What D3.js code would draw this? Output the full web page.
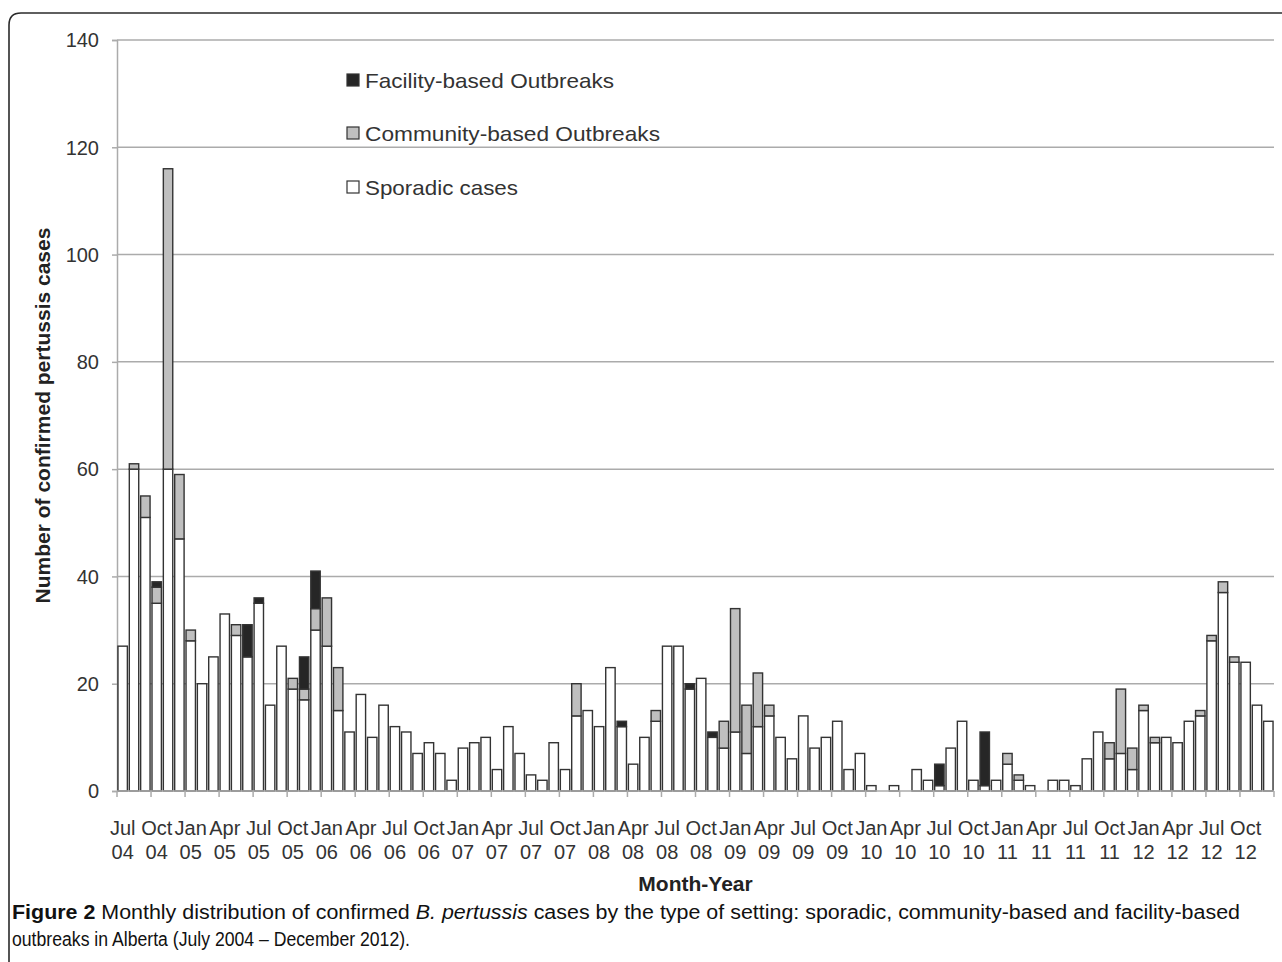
<!DOCTYPE html>
<html>
<head>
<meta charset="utf-8">
<script src="https://cdn.jsdelivr.net/npm/d3@7"></script>
<style>
  html, body { margin: 0; padding: 0; background: #fff; }
  svg { display: block; }
</style>
</head>
<body>
<svg id="chart" width="1282" height="962"></svg>
<script>
// ---- Data ----
const months = [
  "Jul 04","Aug 04","Sep 04","Oct 04","Nov 04","Dec 04",
  "Jan 05","Feb 05","Mar 05","Apr 05","May 05","Jun 05","Jul 05","Aug 05","Sep 05","Oct 05","Nov 05","Dec 05",
  "Jan 06","Feb 06","Mar 06","Apr 06","May 06","Jun 06","Jul 06","Aug 06","Sep 06","Oct 06","Nov 06","Dec 06",
  "Jan 07","Feb 07","Mar 07","Apr 07","May 07","Jun 07","Jul 07","Aug 07","Sep 07","Oct 07","Nov 07","Dec 07",
  "Jan 08","Feb 08","Mar 08","Apr 08","May 08","Jun 08","Jul 08","Aug 08","Sep 08","Oct 08","Nov 08","Dec 08",
  "Jan 09","Feb 09","Mar 09","Apr 09","May 09","Jun 09","Jul 09","Aug 09","Sep 09","Oct 09","Nov 09","Dec 09",
  "Jan 10","Feb 10","Mar 10","Apr 10","May 10","Jun 10","Jul 10","Aug 10","Sep 10","Oct 10","Nov 10","Dec 10",
  "Jan 11","Feb 11","Mar 11","Apr 11","May 11","Jun 11","Jul 11","Aug 11","Sep 11","Oct 11","Nov 11","Dec 11",
  "Jan 12","Feb 12","Mar 12","Apr 12","May 12","Jun 12","Jul 12","Aug 12","Sep 12","Oct 12","Nov 12","Dec 12"
];

const sporadic = [
  27,60,51,35,60,47,
  28,20,25,33,29,25,35,16,27,19,17,30,
  27,15,11,18,10,16,12,11,7,9,7,2,
  8,9,10,4,12,7,3,2,9,4,14,15,
  12,23,12,5,10,13,27,27,19,21,10,8,
  11,7,12,14,10,6,14,8,10,13,4,7,
  1,0,1,0,4,2,1,8,13,2,1,2,
  5,2,1,0,2,2,1,6,11,6,7,4,
  15,9,10,9,13,14,28,37,24,24,16,13
];
const community = [
  0,1,4,3,56,12,
  2,0,0,0,2,0,0,0,0,2,2,4,
  9,8,0,0,0,0,0,0,0,0,0,0,
  0,0,0,0,0,0,0,0,0,0,6,0,
  0,0,0,0,0,2,0,0,0,0,0,5,
  23,9,10,2,0,0,0,0,0,0,0,0,
  0,0,0,0,0,0,0,0,0,0,0,0,
  2,1,0,0,0,0,0,0,0,3,12,4,
  1,1,0,0,0,1,1,2,1,0,0,0
];
const facility = [
  0,0,0,1,0,0,
  0,0,0,0,0,6,1,0,0,0,6,7,
  0,0,0,0,0,0,0,0,0,0,0,0,
  0,0,0,0,0,0,0,0,0,0,0,0,
  0,0,1,0,0,0,0,0,1,0,1,0,
  0,0,0,0,0,0,0,0,0,0,0,0,
  0,0,0,0,0,0,4,0,0,0,10,0,
  0,0,0,0,0,0,0,0,0,0,0,0,
  0,0,0,0,0,0,0,0,0,0,0,0
];

const seriesNames = ["Sporadic cases", "Community-based Outbreaks", "Facility-based Outbreaks"];
const seriesKeys = ["sporadic", "community", "facility"];
const seriesColors = ["#ffffff", "#bfbfbf", "#262626"];
const legendOrder = ["facility", "community", "sporadic"];

const tickLabels = ["Jul 04","Oct 04","Jan 05","Apr 05","Jul 05","Oct 05","Jan 06","Apr 06","Jul 06","Oct 06",
  "Jan 07","Apr 07","Jul 07","Oct 07","Jan 08","Apr 08","Jul 08","Oct 08","Jan 09","Apr 09","Jul 09","Oct 09",
  "Jan 10","Apr 10","Jul 10","Oct 10","Jan 11","Apr 11","Jul 11","Oct 11","Jan 12","Apr 12","Jul 12","Oct 12"];
const yTicks = [0,20,40,60,80,100,120,140];

const yTitle = "Number of confirmed pertussis cases";
const xTitle = "Month-Year";

// ---- Layout ----
const svg = d3.select("#chart");
const plot = { left: 117, right: 1274, top: 40, bottom: 791 };
const FONT = "'Liberation Sans', Arial, Helvetica, sans-serif";

// outer frame with rounded top-left corner
const fr = 12, fx = 9, fy = 13;
svg.append("path")
  .attr("d", `M${fx},962 L${fx},${fy+fr} Q${fx},${fy} ${fx+fr},${fy} L1282,${fy}`)
  .attr("fill", "none").attr("stroke", "#2b2b2b").attr("stroke-width", 1.6);

const table = months.map((m, i) => ({ month: m, sporadic: sporadic[i], community: community[i], facility: facility[i] }));

const x = d3.scaleBand().domain(months).range([plot.left, plot.right]).paddingInner(0.17).paddingOuter(0.085);
const xb = d3.scaleBand().domain(months).range([plot.left, plot.right]).padding(0);
const y = d3.scaleLinear().domain([0, 140]).range([plot.bottom, plot.top]);

// gridlines
svg.append("g").selectAll("line").data(yTicks.filter(t => t > 0)).join("line")
  .attr("x1", plot.left).attr("x2", plot.right)
  .attr("y1", d => y(d)).attr("y2", d => y(d))
  .attr("stroke", "#ababab").attr("stroke-width", 1.5);

// y axis
const yAxis = d3.axisLeft(y).tickValues(yTicks).tickSize(5).tickPadding(13);
const gy = svg.append("g").attr("transform", `translate(${plot.left},0)`).call(yAxis);
gy.select(".domain").attr("stroke", "#ababab").attr("stroke-width", 1.5);
gy.selectAll(".tick line").attr("stroke", "#ababab").attr("stroke-width", 1.5);
gy.selectAll(".tick text").attr("font-family", FONT).attr("font-size", 20).attr("fill", "#333").attr("dy", "0.34em");

// bars
const stack = d3.stack().keys(seriesKeys);
const layers = stack(table);
svg.append("g").selectAll("g").data(layers).join("g")
  .attr("fill", (d, i) => seriesColors[i])
  .selectAll("rect").data(d => d.filter(s => s[1] - s[0] > 0)).join("rect")
  .attr("x", d => x(d.data.month))
  .attr("width", x.bandwidth())
  .attr("y", d => y(d[1]))
  .attr("height", d => y(d[0]) - y(d[1]))
  .attr("stroke", "#333").attr("stroke-width", 1.4);

// x axis line
svg.append("line").attr("x1", plot.left).attr("x2", plot.right).attr("y1", plot.bottom).attr("y2", plot.bottom)
  .attr("stroke", "#ababab").attr("stroke-width", 1.5);
// x ticks at every 3 months boundary
const boundaryMonths = months.filter((m, i) => i % 3 === 0);
svg.append("g").selectAll("line").data(boundaryMonths).join("line")
  .attr("x1", d => xb(d)).attr("x2", d => xb(d))
  .attr("y1", plot.bottom).attr("y2", plot.bottom + 6)
  .attr("stroke", "#ababab").attr("stroke-width", 1.5);
svg.append("line").attr("x1", plot.right).attr("x2", plot.right).attr("y1", plot.bottom).attr("y2", plot.bottom + 6)
  .attr("stroke", "#ababab").attr("stroke-width", 1.5);

// x labels (two lines)
const xl = svg.append("g").selectAll("text").data(tickLabels).join("text")
  .attr("x", d => xb(d) + xb.bandwidth() / 2)
  .attr("text-anchor", "middle")
  .attr("font-family", FONT).attr("font-size", 20).attr("fill", "#333");
xl.append("tspan").attr("x", d => xb(d) + xb.bandwidth() / 2).attr("y", 835).text(d => d.split(" ")[0]);
xl.append("tspan").attr("x", d => xb(d) + xb.bandwidth() / 2).attr("y", 859).text(d => d.split(" ")[1]);

// axis titles
svg.append("text").attr("x", (plot.left + plot.right) / 2).attr("y", 891)
  .attr("text-anchor", "middle").attr("font-family", FONT).attr("font-size", 21)
  .attr("font-weight", "bold").attr("fill", "#222").text(xTitle);
svg.append("text").attr("transform", `translate(50,${(plot.top + plot.bottom) / 2}) rotate(-90)`)
  .attr("text-anchor", "middle").attr("font-family", FONT).attr("font-size", 21)
  .attr("font-weight", "bold").attr("fill", "#222").text(yTitle);

// legend
const legY = [80, 133, 187];
const legW = { facility: 249, community: 295, sporadic: 153 };
const leg = svg.append("g").selectAll("g").data(legendOrder).join("g")
  .attr("transform", (d, i) => `translate(347,${legY[i]})`);
leg.append("rect").attr("x", 0).attr("y", -6).attr("width", 12).attr("height", 12)
  .attr("fill", d => seriesColors[seriesKeys.indexOf(d)]).attr("stroke", "#333").attr("stroke-width", 1.2);
leg.append("text").attr("x", 18).attr("y", 7.5)
  .attr("font-family", FONT).attr("font-size", 21).attr("fill", "#333")
  .attr("textLength", d => legW[d]).attr("lengthAdjust", "spacingAndGlyphs")
  .text(d => seriesNames[seriesKeys.indexOf(d)]);

// caption
const CAP = "'Liberation Sans Narrow', 'Arial Narrow', 'Liberation Sans', sans-serif";
const cap1 = svg.append("text").attr("x", 12).attr("y", 919).attr("font-family", CAP).attr("font-size", 20)
  .attr("fill", "#111").attr("textLength", 1228).attr("lengthAdjust", "spacingAndGlyphs");
cap1.append("tspan").attr("font-weight", "bold").text("Figure 2");
cap1.append("tspan").text(" Monthly distribution of confirmed ");
cap1.append("tspan").attr("font-style", "italic").text("B. pertussis");
cap1.append("tspan").text(" cases by the type of setting: sporadic, community-based and facility-based");
svg.append("text").attr("x", 12).attr("y", 946).attr("font-family", CAP).attr("font-size", 20).attr("fill", "#111")
  .attr("textLength", 398).attr("lengthAdjust", "spacingAndGlyphs")
  .text("outbreaks in Alberta (July 2004 \u2013 December 2012).");
</script>
</body>
</html>
